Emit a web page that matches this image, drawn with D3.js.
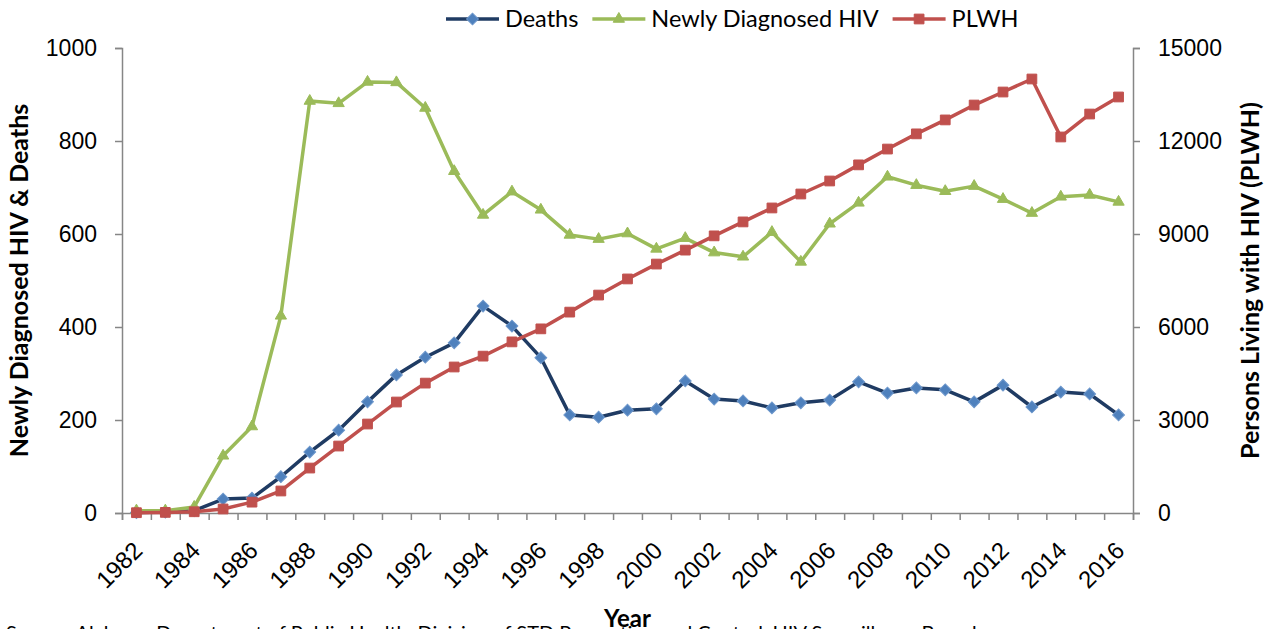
<!DOCTYPE html>
<html>
<head>
<meta charset="utf-8">
<script src="https://cdn.jsdelivr.net/npm/d3@7"></script>
<style>
  body { margin: 0; background: #fff; }
  svg { font-family: Lato, "Open Sans", sans-serif; }
</style>
</head>
<body>
<div id="chart"></div>
<script>
// data
const years = [1982, 1983, 1984, 1985, 1986, 1987, 1988, 1989, 1990, 1991, 1992, 1993,
  1994, 1995, 1996, 1997, 1998, 1999, 2000, 2001, 2002, 2003, 2004, 2005, 2006, 2007,
  2008, 2009, 2010, 2011, 2012, 2013, 2014, 2015, 2016];
const deaths = [1, 2, 5, 30, 32, 78, 131, 178, 239, 297, 335, 366,
  445, 402, 334, 211, 206, 221, 224, 284, 245, 241, 226, 237, 243, 282,
  258, 269, 265, 239, 275, 228, 260, 256, 211];
const newlyDiagnosed = [5, 5, 13, 123, 186, 424, 886, 881, 927, 926, 871, 735,
  641, 691, 652, 598, 589, 601, 568, 591, 560, 551, 604, 540, 622, 667,
  723, 705, 692, 703, 675, 645, 680, 684, 669];
const plwh = [10, 20, 40, 130, 350, 710, 1450, 2160, 2870, 3580, 4190, 4710,
  5060, 5520, 5940, 6480, 7030, 7550, 8030, 8480, 8940, 9390, 9840, 10290, 10710, 11230,
  11740, 12230, 12680, 13160, 13580, 14000, 12130, 12870, 13420];
const leftTicks = [0, 200, 400, 600, 800, 1000];
const rightTicks = [0, 3000, 6000, 9000, 12000, 15000];
const yearLabels = [1982, 1984, 1986, 1988, 1990, 1992, 1994, 1996, 1998, 2000, 2002,
  2004, 2006, 2008, 2010, 2012, 2014, 2016];
const yearBounds = [1981.5, 1982.5, 1983.5, 1984.5, 1985.5, 1986.5, 1987.5, 1988.5, 1989.5,
  1990.5, 1991.5, 1992.5, 1993.5, 1994.5, 1995.5, 1996.5, 1997.5, 1998.5, 1999.5, 2000.5,
  2001.5, 2002.5, 2003.5, 2004.5, 2005.5, 2006.5, 2007.5, 2008.5, 2009.5, 2010.5, 2011.5,
  2012.5, 2013.5, 2014.5, 2015.5, 2016.5];

const W = 1275, H = 629;
const margin = { top: 48, right: 142, bottom: 116, left: 122 };
const axisGray = "#868686";

const svg = d3.select("#chart").append("svg")
  .attr("width", W)
  .attr("height", H);

const x = d3.scaleLinear([1981.5, 2016.5], [margin.left, W - margin.right]);
const yL = d3.scaleLinear([0, 1000], [H - margin.bottom, margin.top]);
const yR = d3.scaleLinear([0, 15000], [H - margin.bottom, margin.top]);

const series = [
  { name: "Deaths", values: deaths, y: yL, line: "#1F3B63", fill: "#4F81BD", stroke: "#6E98CC",
    symbol: d3.symbolSquare, size: 70, rot: 45 },
  { name: "Newly Diagnosed HIV", values: newlyDiagnosed, y: yL, line: "#9BBB59", fill: "#9BBB59", stroke: "#9BBB59",
    symbol: d3.symbolTriangle, size: 55, rot: 0 },
  { name: "PLWH", values: plwh, y: yR, line: "#C0504D", fill: "#C0504D", stroke: "#C0504D",
    symbol: d3.symbolSquare, size: 95, rot: 0 }
];

// axes
function styleAxis(g) {
  g.select(".domain").attr("stroke", axisGray).attr("stroke-width", 1.5);
  g.selectAll(".tick line").attr("stroke", axisGray).attr("stroke-width", 1.5);
  g.selectAll(".tick text").attr("fill", "#000").style("font-size", "23px");
}

svg.append("g")
  .attr("transform", `translate(${margin.left},0)`)
  .call(d3.axisLeft(yL).tickValues(leftTicks).tickFormat(d3.format("d"))
    .tickSizeOuter(0).tickSize(7).tickPadding(18))
  .call(styleAxis);

svg.append("g")
  .attr("transform", `translate(${W - margin.right},0)`)
  .call(d3.axisRight(yR).tickValues(rightTicks).tickFormat(d3.format("d"))
    .tickSizeOuter(0).tickSize(7).tickPadding(18))
  .call(styleAxis);

svg.append("g")
  .attr("transform", `translate(0,${H - margin.bottom})`)
  .call(d3.axisBottom(x).tickValues(yearBounds).tickFormat("").tickSizeOuter(0).tickSize(7))
  .call(styleAxis);

const xLab = svg.append("g")
  .attr("transform", `translate(0,${H - margin.bottom})`)
  .call(d3.axisBottom(x).tickValues(yearLabels).tickFormat(d3.format("d")).tickSize(0));
xLab.select(".domain").remove();
xLab.selectAll(".tick text")
  .attr("fill", "#000")
  .style("font-size", "24px")
  .attr("text-anchor", "end")
  .attr("y", 0)
  .attr("dy", "0.35em")
  .attr("transform", "translate(1,33) rotate(-45)");

// axis titles
svg.append("text")
  .attr("transform", `translate(28,${(margin.top + H - margin.bottom) / 2}) rotate(-90)`)
  .attr("text-anchor", "middle")
  .style("font-weight", "bold")
  .style("font-size", "25px")
  .text("Newly Diagnosed HIV & Deaths");

svg.append("text")
  .attr("transform", `translate(1259,${(margin.top + H - margin.bottom) / 2}) rotate(-90)`)
  .attr("text-anchor", "middle")
  .style("font-weight", "bold")
  .style("font-size", "25px")
  .text("Persons Living with HIV (PLWH)");

svg.append("text")
  .attr("x", (margin.left + W - margin.right) / 2)
  .attr("y", 627)
  .attr("text-anchor", "middle")
  .style("font-weight", "bold")
  .style("font-size", "24px")
  .text("Year");

svg.append("text")
  .attr("x", 6)
  .attr("y", 640)
  .style("font-size", "20px")
  .text("Source: Alabama Department of Public Health, Division of STD Prevention and Control, HIV Surveillance Branch");

// lines + markers
for (const s of series) {
  const line = d3.line().x((d, i) => x(years[i])).y(d => s.y(d));
  svg.append("path")
    .datum(s.values)
    .attr("fill", "none")
    .attr("stroke", s.line)
    .attr("stroke-width", 3.5)
    .attr("stroke-linejoin", "round")
    .attr("d", line);
  svg.append("g")
    .selectAll("path")
    .data(s.values)
    .join("path")
    .attr("d", d3.symbol(s.symbol, s.size))
    .attr("transform", (d, i) => `translate(${x(years[i])},${s.y(d)}) rotate(${s.rot})`)
    .attr("fill", s.fill)
    .attr("stroke", s.stroke)
    .attr("stroke-width", 1);
}

// legend, laid out left to right
const legend = svg.append("g").selectAll("g")
  .data(series)
  .join("g");
legend.append("line")
  .attr("x1", 0).attr("x2", 53)
  .attr("stroke", d => d.line)
  .attr("stroke-width", 3.5);
legend.append("path")
  .attr("d", d => d3.symbol(d.symbol, d.size)())
  .attr("transform", d => `translate(26.5,0) rotate(${d.rot})`)
  .attr("fill", d => d.fill)
  .attr("stroke", d => d.stroke);
legend.append("text")
  .attr("x", 59)
  .attr("dy", "0.35em")
  .style("font-size", "23.5px")
  .text(d => d.name);

let lx = 446;
legend.each(function () {
  d3.select(this).attr("transform", `translate(${lx},19)`);
  lx += 59 + d3.select(this).select("text").node().getComputedTextLength() + 14;
});
</script>
</body>
</html>
